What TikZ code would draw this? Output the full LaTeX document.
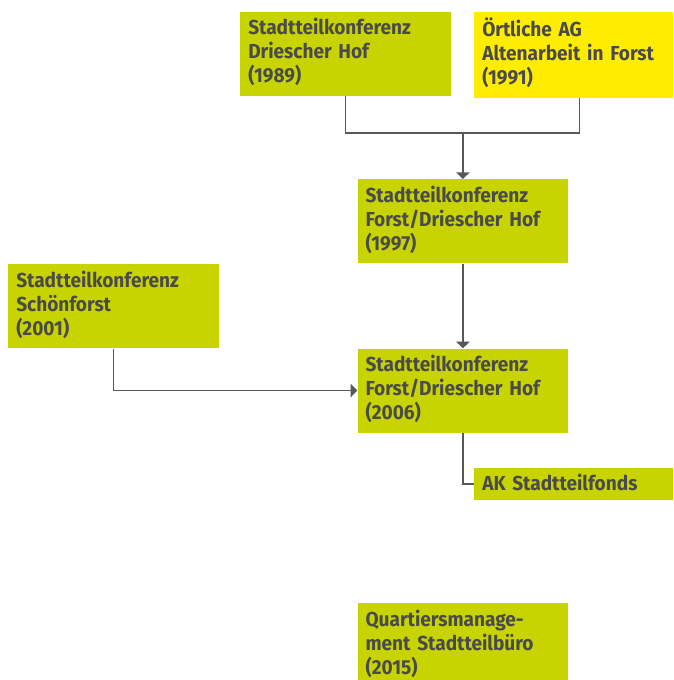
\documentclass[tikz,border=0pt]{standalone}
\usepackage{fontspec}
\setmainfont{Fira Sans}[FakeStretch=0.94]
\usetikzlibrary{arrows.meta}
\definecolor{hofgreen}{HTML}{C8D400}
\definecolor{agyellow}{HTML}{FFED00}
\definecolor{inkgray}{HTML}{4A4A4A}
\definecolor{linegray}{HTML}{585858}

\begin{document}
\begin{tikzpicture}[x=0.75pt,y=-0.75pt,
  station/.style={fill=hofgreen,anchor=north west,text width=146pt,align=left,
    inner xsep=6pt,inner ysep=4.5pt,text=inkgray,
    font=\fontsize{15.2}{18}\selectfont\bfseries,
    execute at begin node=\strut,execute at end node=\strut},
  link/.style={draw=linegray,line width=1.1pt},
  flow/.style={link,-{Triangle[width=10pt,length=5pt]}}]
  \clip (0,0) rectangle (673,680);
  % Gremien
  \node[station] (drieschhof) at (240,11.3) {Stadtteilkonferenz\\Driescher Hof\\(1989)};
  \node[station,fill=agyellow] (altenarbeit) at (474,11.3) {Örtliche AG\\Altenarbeit in Forst\\(1991)};
  \node[station] (forst97) at (357.3,179) {Stadtteilkonferenz\\Forst/Driescher Hof\\(1997)};
  \node[station] (schoenforst) at (8,264) {Stadtteilkonferenz\\Schönforst\\(2001)};
  \node[station] (forst06) at (357.3,348.3) {Stadtteilkonferenz\\Forst/Driescher Hof\\(2006)};
  \node[station,inner ysep=0pt,text height=17.2pt,text depth=6.5pt,
    execute at begin node={},execute at end node={}] (fonds) at (474,467.7) {AK Stadtteilfonds};
  \node[station] (quartier) at (357.3,603) {Quartiersmanage-\\ment Stadtteilbüro\\(2015)};
  % Verbindungen
  \coordinate (merge) at (forst97.north |- 0,133);
  \draw[link] (drieschhof.south) |- (merge) -| (altenarbeit.south);
  \draw[flow] (merge) -- (forst97.north);
  \draw[flow] (forst97.south) -- (forst06.north);
  \draw[flow] (schoenforst.south) |- (forst06.west);
  \draw[link] (forst06.south) |- (fonds.west);
\end{tikzpicture}
\end{document}
